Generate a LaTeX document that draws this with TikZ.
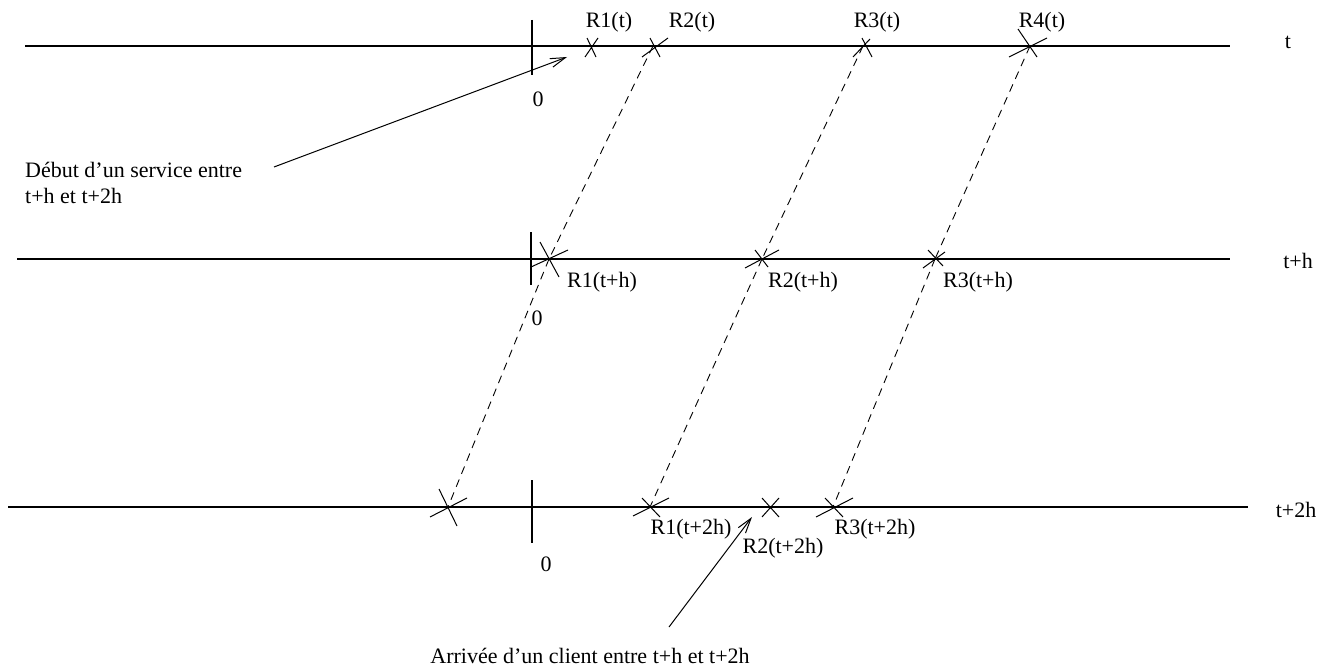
\documentclass[tikz,border=0pt]{standalone}
\usepackage{fontspec}
\setmainfont{Liberation Serif}
\usetikzlibrary{arrows.meta}
\begin{document}
\begin{tikzpicture}[x=1pt,y=-1pt,
  every node/.style={inner sep=0pt,font=\fontsize{22}{26.5}\selectfont},
  axisline/.style={line width=1.1pt},
  crossline/.style={line width=1pt},
  dashlink/.style={line width=0.9pt,dash pattern=on 8pt off 6pt},
  pointer/.style={line width=1pt,-{Straight Barb[length=15pt,width=9pt,line width=1pt]}}]
\useasboundingbox (0,0) rectangle (1323,669);
% time lines
\coordinate (tA) at (25,46);   \coordinate (tB) at (1230,46);
\coordinate (hA) at (17,259);  \coordinate (hB) at (1230,259);
\coordinate (hhA) at (8,507);  \coordinate (hhB) at (1248,507);
\draw[axisline] (tA) -- (tB);
\draw[axisline] (hA) -- (hB);
\draw[axisline] (hhA) -- (hhB);
\node (lt) at (1288,42) {t};
\node (lh) at (1298,261) {t+h};
\node (lhh) at (1296,510) {t+2h};
% zero ticks
\coordinate (z1a) at (532,20);  \coordinate (z1b) at (532,75);
\coordinate (z2a) at (531,232); \coordinate (z2b) at (531,285);
\coordinate (z3a) at (532,480); \coordinate (z3b) at (532,543);
\draw[axisline] (z1a) -- (z1b);
\draw[axisline] (z2a) -- (z2b);
\draw[axisline] (z3a) -- (z3b);
\node (zero1) at (538,99) {0};
\node (zero2) at (537,318) {0};
\node (zero3) at (546,564) {0};
% event points
\coordinate (R1t) at (591,46);
\coordinate (R2t) at (653,46);
\coordinate (R3t) at (863,46);
\coordinate (R4t) at (1030,46);
\coordinate (R1h) at (549,259);
\coordinate (R2h) at (762,259);
\coordinate (R3h) at (935,259);
\coordinate (L0) at (448,507);
\coordinate (R1hh) at (650,507);
\coordinate (R2hh) at (770,507);
\coordinate (R3hh) at (833,507);
% crosses
\draw[crossline,shift={(R1t)}] (-4,-8) -- (5,11) (-6,11) -- (7,-8);
\draw[crossline,shift={(R2t)}] (-11,11) -- (15,-8) (-3,-8) -- (7,11);
\draw[crossline,shift={(R3t)}] (-10,11) -- (7,-7) (-1,-8) -- (9,11);
\draw[crossline,shift={(R4t)}] (-12,-17) -- (7,11) (-21,11) -- (17,-8);
\draw[crossline,shift={(R1h)}] (-9,-17) -- (10,18) (-18,8) -- (19,-9);
\draw[crossline,shift={(R2h)}] (-17,9) -- (17,-9) (-7,-9) -- (6,8);
\draw[crossline,shift={(R3h)}] (-7,-9) -- (8,7) (-12,9) -- (10,-7);
\draw[crossline,shift={(L0)}] (-18,10) -- (19,-9) (-9,-18) -- (9,19);
\draw[crossline,shift={(R1hh)}] (-17,9) -- (19,-9) (-8,-9) -- (10,10);
\draw[crossline,shift={(R2hh)}] (-8,-9) -- (9,10) (-8,10) -- (9,-9);
\draw[crossline,shift={(R3hh)}] (-17,10) -- (20,-9) (-8,-9) -- (10,10);
% dashed links
\draw[dashlink] (R2t) -- (R1h);
\draw[dashlink] (R1h) -- (L0);
\draw[dashlink] (R3t) -- (R2h);
\draw[dashlink] (R2h) -- (R1hh);
\draw[dashlink] (R4t) -- (R3h);
\draw[dashlink] (R3h) -- (R3hh);
% labels
\node (lR1t) at (609,22) {R1(t)};
\node (lR2t) at (692,22) {R2(t)};
\node (lR3t) at (877,22) {R3(t)};
\node (lR4t) at (1042,22) {R4(t)};
\node (lR1h) at (602,282) {R1(t+h)};
\node (lR2h) at (803,282) {R2(t+h)};
\node (lR3h) at (978,282) {R3(t+h)};
\node (lR1hh) at (691,529) {R1(t+2h)};
\node (lR2hh) at (783,548) {R2(t+2h)};
\node (lR3hh) at (875,529) {R3(t+2h)};
% annotations
\node[anchor=west,align=left] (debut) at (25,183) {D\'ebut d'un service entre\\t+h et t+2h};
\coordinate (debutEnd) at (274,167);
\coordinate (debutTip) at (567,57);
\draw[pointer] (debutEnd) -- (debutTip);
\node (arrivee) at (590,656) {Arriv\'ee d'un client entre t+h et t+2h};
\coordinate (arrEnd) at (669,627);
\coordinate (arrTip) at (752,517);
\draw[pointer] (arrEnd) -- (arrTip);
\end{tikzpicture}
\end{document}
